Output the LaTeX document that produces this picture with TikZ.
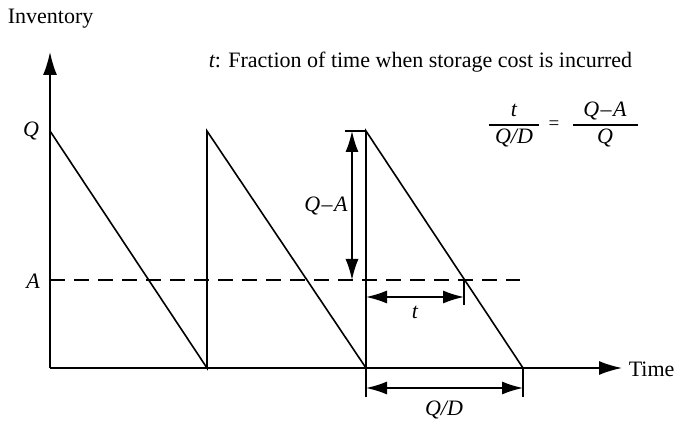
\documentclass[tikz,border=0pt]{standalone}
\usepackage{fontspec}
\setmainfont{Liberation Serif}
\usetikzlibrary{arrows.meta}
\begin{document}
\begin{tikzpicture}[x=1pt,y=-1pt,
  line width=1.6pt,
  lbl/.style={font=\fontsize{22}{26}\selectfont, inner sep=0pt},
  big/.style={-{Latex[length=23pt,width=14pt]}},
  dim/.style={{Latex[length=21pt,width=13pt]}-{Latex[length=21pt,width=13pt]}},
  dash line/.style={dash pattern=on 15pt off 9pt, line width=1.2pt},
  fracrule/.style={line width=1.2pt}]
\useasboundingbox[clip] (0,0) rectangle (675,422);
% coordinates
\coordinate (O) at (50,368);
\coordinate (ytop) at (50,52);
\coordinate (xend) at (622,368);
\coordinate (q0) at (50,131);
\coordinate (b1) at (207,368);
\coordinate (q1) at (207,131);
\coordinate (b2) at (366,368);
\coordinate (q2) at (366,131);
\coordinate (b3) at (523,368);
\coordinate (a0) at (50,280);
\coordinate (a1) at (520,280);
% axes
\draw[big] (O) -- (ytop);
\draw[big] (O) -- (xend);
% sawtooth
\draw[line join=miter] (q0) -- (b1) -- (q1) -- (b2) -- (q2) -- (b3);
% A level
\draw[dash line] (a0) -- (a1);
% Q-A dimension
\coordinate (qa0) at (345,131);
\draw (qa0) -- (q2);
\coordinate (qa1) at (352,131);
\coordinate (qa2) at (352,280);
\draw[dim] (qa1) -- (qa2);
% t dimension
\coordinate (tx) at (464,280);
\coordinate (txb) at (464,305);
\draw (tx) -- (txb);
\coordinate (t1) at (366,297);
\coordinate (t2) at (464,297);
\draw[dim] (t1) -- (t2);
% Q/D dimension
\coordinate (d0b) at (366,397);
\coordinate (d1) at (523,368);
\coordinate (d1b) at (523,397);
\draw (b2) -- (d0b);
\draw (d1) -- (d1b);
\coordinate (e1) at (366,388);
\coordinate (e2) at (523,388);
\draw[dim] (e1) -- (e2);
% labels
\node[lbl, anchor=west] (inv) at (7,19) {Inventory};
\node[lbl, anchor=west] (time) at (628,369) {Time};
\node[lbl] (Q) at (31,131) {\itshape Q};
\node[lbl] (A) at (33,281) {\itshape A};
\node[lbl] (QA) at (326,206) {\itshape Q\kern1.5pt\upshape–\kern1.5pt\itshape A};
\node[lbl] (t) at (415,312) {\itshape t};
\node[lbl] (QD) at (444,410) {\itshape Q/D};
\node[lbl, anchor=base west] (frac) at (208,68) {\itshape t\upshape: Fraction of time when storage cost is incurred};
% equation
\coordinate (f1a) at (489,125);
\coordinate (f1b) at (539,125);
\coordinate (f2a) at (573,125);
\coordinate (f2b) at (638,125);
\draw[fracrule] (f1a) -- (f1b);
\draw[fracrule] (f2a) -- (f2b);
\node[lbl, anchor=base] (n1) at (514,117) {\itshape t};
\node[lbl, anchor=base] (d1n) at (514,144) {\itshape Q/D};
\node[lbl, anchor=base] (n2) at (605,117) {\itshape Q\kern1.5pt\upshape–\kern1.5pt\itshape A};
\node[lbl, anchor=base] (d2n) at (605,144) {\itshape Q};
\node[inner sep=0pt, font=\fontsize{19}{22}\selectfont] (eqs) at (554,125) {=};
\end{tikzpicture}
\end{document}
